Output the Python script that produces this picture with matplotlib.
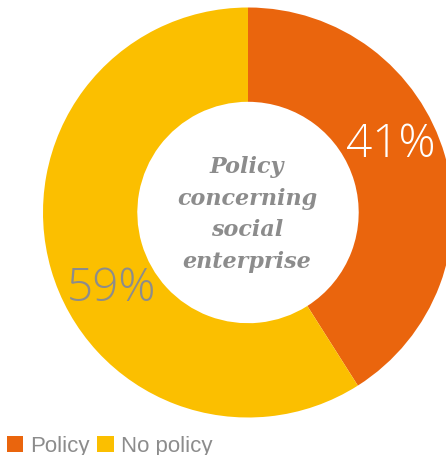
import matplotlib
matplotlib.use("Agg")
import matplotlib.pyplot as plt

categories = ["Policy", "No policy"]
shares = [41, 59]
pct_labels = ["41%", "59%"]
center_title = "Policy\nconcerning\nsocial\nenterprise"

colors = ["#EA650D", "#FBBF00"]
grey = "#8C8C8C"

W, H = 446, 456
fig = plt.figure(figsize=(W / 100, H / 100), dpi=100)
ax = fig.add_axes([0, 0, 1, 1])

cx, cy = 248, H - 213.5
R = 205
ring = 0.46

wedges, _ = ax.pie(
    shares,
    colors=colors,
    startangle=90,
    counterclock=False,
    radius=R,
    center=(cx, cy),
    wedgeprops=dict(width=R * ring, edgecolor="none", linewidth=0),
)
ax.set_xlim(0, W)
ax.set_ylim(0, H)
ax.set_aspect("equal")
ax.axis("off")

# percentage labels on the ring
pct_font = dict(family=["Open Sans", "DejaVu Sans"], fontweight=300, fontsize=33)
ax.text(391, H - 145, pct_labels[0], color="white",
        ha="center", va="center", **pct_font)
ax.text(111, H - 289, pct_labels[1], color=grey,
        ha="center", va="center", **pct_font)

# title in the hole
ax.text(cx - 1, cy - 1, center_title, color=grey, fontsize=16,
        family=["DejaVu Serif"], fontweight="bold", fontstyle="italic",
        ha="center", va="center", linespacing=1.55)

leg = ax.legend(
    wedges, categories, loc="lower left", bbox_to_anchor=(0.005, -0.013),
    bbox_transform=fig.transFigure, ncol=2, frameon=False,
    prop=dict(family="Liberation Sans", size=16),
    handlelength=0.75, handleheight=0.75, handletextpad=0.3,
    columnspacing=0.35, borderpad=0.2, borderaxespad=0,
)
for t in leg.get_texts():
    t.set_color(grey)

fig.savefig("out.png", dpi=100)
